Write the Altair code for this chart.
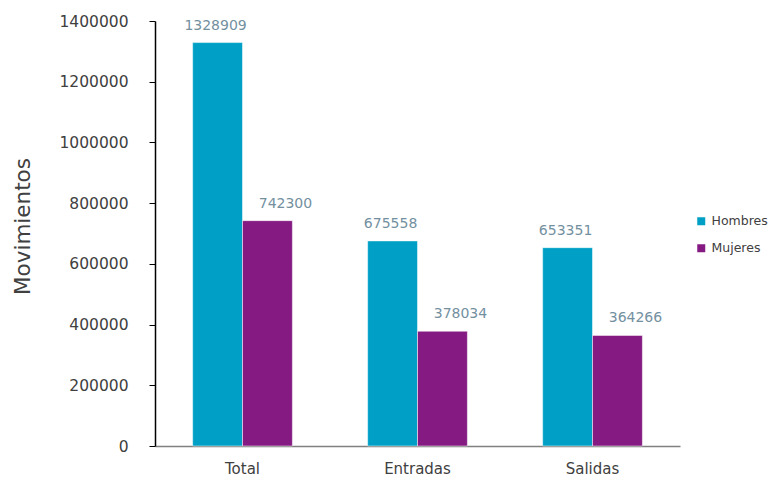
import altair as alt
import pandas as pd

categories = ["Total", "Entradas", "Salidas"]
hombres = [1328909, 675558, 653351]
mujeres = [742300, 378034, 364266]
series = ["Hombres", "Mujeres"]
colors = ["#00A0C6", "#841A82"]

rows = []
for i, c in enumerate(categories):
    rows.append({"cat": c, "sexo": "Hombres", "valor": hombres[i]})
    rows.append({"cat": c, "sexo": "Mujeres", "valor": mujeres[i]})
df = pd.DataFrame(rows)

font = "DejaVu Sans"

x = alt.X("cat:N", sort=categories, title=None,
          scale=alt.Scale(paddingInner=0.43, paddingOuter=0.215),
          axis=alt.Axis(labelAngle=0, labelFont=font, labelFontSize=15, labelColor="#404040",
                        domainColor="#808080", domainWidth=1.5, ticks=False, labelPadding=15))
y = alt.Y("valor:Q", title="Movimientos",
          scale=alt.Scale(domain=[0, 1400000], nice=False),
          axis=alt.Axis(values=list(range(0, 1400001, 200000)), format="d", grid=False,
                        labelFont=font, labelFontSize=15.5, labelColor="#404040", labelPadding=21,
                        tickColor="#000000", tickSize=6, domainColor="#000000", domainWidth=1.5,
                        titleFont=font, titleFontSize=21.5, titleFontWeight="normal",
                        titleColor="#404040", titleX=-132, titleY=205, titleBaseline="middle"))
color = alt.Color("sexo:N", scale=alt.Scale(domain=series, range=colors), title=None,
                  legend=alt.Legend(orient="none", legendX=540, legendY=194, symbolType="square",
                                    symbolSize=64, labelFont=font, labelFontSize=12.5,
                                    labelColor="#404040", rowPadding=14, labelOffset=4,
                                    symbolStrokeWidth=0, labelLimit=200))

base = alt.Chart(df).encode(x=x, xOffset=alt.XOffset("sexo:N", sort=series), y=y)
bars = base.mark_bar(stroke="white", strokeWidth=0.5).encode(color=color)
lab_h = base.transform_filter(alt.datum.sexo == "Hombres").mark_text(
    baseline="bottom", dy=-10, dx=-2, font=font, fontSize=14, color="#7390A0").encode(text="valor:Q")
lab_m = base.transform_filter(alt.datum.sexo == "Mujeres").mark_text(
    baseline="bottom", dy=-10, dx=18, font=font, fontSize=14, color="#7390A0").encode(text="valor:Q")

chart = (bars + lab_h + lab_m).properties(
    width=525, height=425, background="white",
    autosize=alt.AutoSizeParams(type="none"),
    padding={"left": 147, "top": 13, "right": 89, "bottom": 32},
).configure_view(strokeWidth=0)

chart.save("out.html", embed_options={"renderer": "svg", "actions": False})
